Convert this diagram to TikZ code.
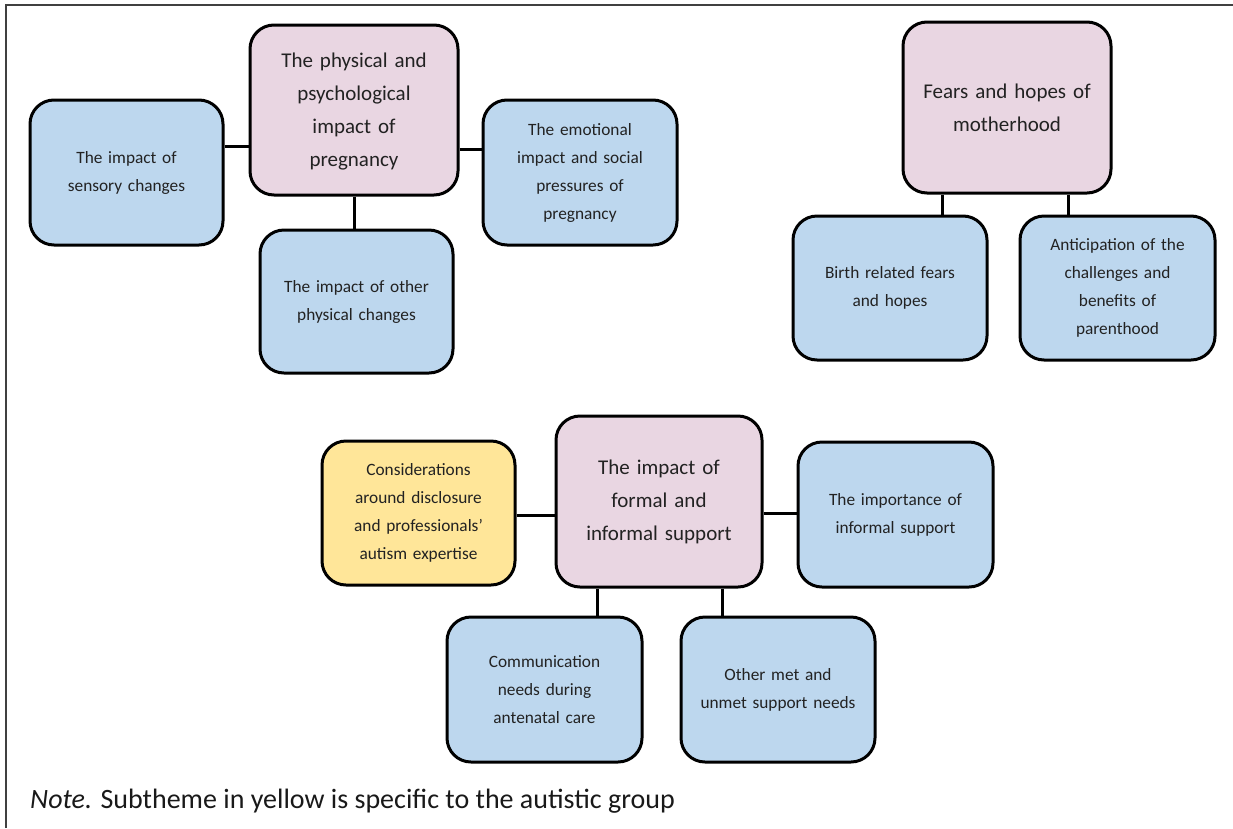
\documentclass[tikz,border=0pt]{standalone}
\usepackage{fontspec}
\setmainfont{Carlito}
\definecolor{bluefill}{HTML}{BDD7EE}
\definecolor{pinkfill}{HTML}{E9D6E2}
\definecolor{yellowfill}{HTML}{FFE699}
\definecolor{txt}{HTML}{222222}
\tikzset{
  box/.style={draw=black, line width=3pt, rounded corners=24pt, align=center, inner sep=0pt, text=txt},
  subbox/.style={box, fill=bluefill, font=\fontsize{17.3}{28}\selectfont},
  mainbox/.style={box, fill=pinkfill, font=\fontsize{21}{33}\selectfont},
  yelbox/.style={box, fill=yellowfill, font=\fontsize{17.3}{28}\selectfont},
  link/.style={draw=black, line width=3pt},
}
% box from corners (x1,y1)-(x2,y2) in pixel units (y down)
\newcommand{\pbox}[7]{%
  \node[#1, minimum width={(#4-#2)*1pt}, minimum height={(#5-#3)*1pt}, text width={(#4-#2-16)*1pt}]
    (#6) at ({(#2+#4)/2}, {(#3+#5)/2}) {#7};}
\begin{document}
\begin{tikzpicture}[x=1pt, y=-1pt]
\useasboundingbox (0,0) rectangle (1233,828);
\draw[line width=1.5pt, black!75] (6,828) -- (6,5) -- (1233,5);

% group 1
\pbox{mainbox}{250}{25}{458}{195}{p1}{\raisebox{-4pt}{\begin{tabular}{@{}c@{}}The physical and\\psychological\\impact of\\pregnancy\end{tabular}}}
\pbox{subbox}{30}{100}{223}{245}{sens}{The impact of\\sensory changes}
\pbox{subbox}{483}{100}{677}{245}{emo}{The emotional\\impact and social\\pressures of\\pregnancy}
\pbox{subbox}{260}{230}{453}{373}{oth}{The impact of other\\physical changes}
\draw[link] (sens.east |- 0,146) -- (p1.west |- 0,146);
\draw[link] (p1.east |- 0,149) -- (emo.west |- 0,149);
\draw[link] (p1.south -| 354,0) -- (oth.north -| 354,0);

% group 2
\pbox{mainbox}{903}{22}{1111}{193}{fear}{Fears and hopes of\\motherhood}
\pbox{subbox}{793}{216}{987}{360}{birth}{Birth related fears\\and hopes}
\pbox{subbox}{1020}{216}{1215}{360}{anti}{Anticipation of the\\challenges and\\benefits of\\parenthood}
\draw[link] (fear.south -| 942,0) -- (birth.north -| 942,0);
\draw[link] (fear.south -| 1068,0) -- (anti.north -| 1068,0);

% group 3
\pbox{mainbox}{556}{416}{762}{587}{sup}{The impact of\\formal and\\informal support}
\pbox{yelbox}{322}{441}{515}{585}{cons}{Considerations\\around disclosure\\and professionals’\\autism expertise}
\pbox{subbox}{798}{442}{993}{587}{inf}{The importance of\\informal support}
\pbox{subbox}{447}{617}{642}{762}{comm}{Communication\\needs during\\antenatal care}
\pbox{subbox}{681}{617}{875}{762}{met}{Other met and\\unmet support needs}
\draw[link] (cons.east |- 0,515) -- (sup.west |- 0,515);
\draw[link] (sup.east |- 0,513) -- (inf.west |- 0,513);
\draw[link] (sup.south -| 597,0) -- (comm.north -| 597,0);
\draw[link] (sup.south -| 722,0) -- (met.north -| 722,0);

% note
\node[anchor=base west, inner sep=0pt, text=black!90, font=\fontsize{28}{32}\selectfont] (note) at (30,808)
  {\textit{Note.} Subtheme in yellow is specific to the autistic group};
\end{tikzpicture}
\end{document}
